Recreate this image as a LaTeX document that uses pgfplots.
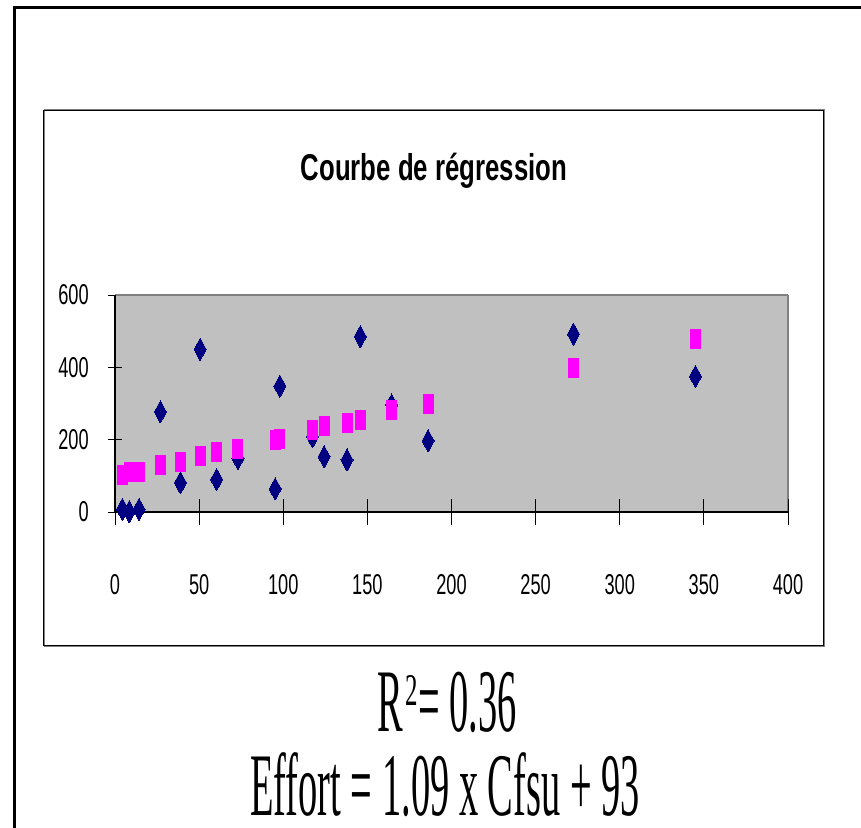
\documentclass[border=0pt]{standalone}
\usepackage{fontspec}
\setmainfont{Liberation Sans}
\newfontfamily\tickfont[FakeStretch=0.635]{Liberation Sans}
\newfontfamily\titlefont[FakeStretch=0.69]{Liberation Sans}
\newfontfamily\eqfont[FakeStretch=0.43]{Liberation Serif}
\newfontfamily\supfont[FakeStretch=0.55]{Liberation Serif}
\usepackage{pgfplots}
\usepackage{pgfplotstable}
\pgfplotsset{compat=1.18}
\definecolor{navyd}{HTML}{000080}
\definecolor{pinkm}{HTML}{FF00FF}
\definecolor{plotgray}{HTML}{C0C0C0}
\definecolor{edgegray}{HTML}{808080}
\pgfplotstableread{
x e p
4.4 7.5 102
8.5 1 111
14.3 7.5 111
27.0 277 129
38.9 81 138
50.6 450 156
60.4 90 165
73.1 148 174
95.2 64 199
98.0 348 202
117.4 208 228
124.3 153 237
137.9 144 246
145.8 485 254
164.4 296 281
186.1 197 299
272.5 492 397
345.0 375 478
}\data
\begin{document}
\begin{tikzpicture}
\useasboundingbox (0,0) rectangle (645.75pt,-621pt);
% outer frame
\draw[line width=2.25pt] (9.75pt,-5.25pt) -- (645.75pt,-5.25pt);
\draw[line width=2.25pt] (10.875pt,-4.125pt) -- (10.875pt,-621pt);
% chart area box
\draw[edgegray, line width=0.75pt] (33pt,-81.75pt) rectangle (618pt,-484.5pt);
\draw[black, line width=0.75pt] (32.25pt,-82.5pt) rectangle (617.25pt,-483.75pt);
% title
\node[anchor=base, inner sep=0pt, font=\titlefont\fontsize{28}{30}\selectfont\bfseries] at (325.5pt,-135pt) {Courbe de régression};
\begin{axis}[
  at={(86.25pt,-384pt)}, anchor=south west,
  scale only axis, width=504.75pt, height=162.75pt,
  xmin=0, xmax=400, ymin=0, ymax=600,
  xtick={0,50,...,400}, ytick={0,200,400,600},
  axis background/.style={fill=plotgray},
  axis line style={draw=none},
  tick align=center, major tick length=10.5pt,
  xtick style={draw=none},
  ytick style={black, line width=0.75pt},
  ytick pos=left, xtick pos=bottom,
  /pgf/number format/assume math mode=true,
  ticklabel style={font=\tickfont\fontsize{21.5}{22}\selectfont, inner sep=0pt},
  xticklabel style={anchor=base, yshift=-56.25pt},
  yticklabel style={anchor=east, xshift=-14.25pt},
  clip=false,
]
\draw[edgegray, line width=1.8pt] (axis cs:0,600) -- (axis cs:400,600);
\draw[edgegray, line width=1.1pt] (axis cs:400,600) -- (axis cs:400,0);
\draw[black, line width=1pt] (axis cs:0,0) -- (axis cs:0,600);
\draw[black, line width=1pt] (axis cs:0,0) -- (axis cs:400,0);
\pgfplotsinvokeforeach{0,50,100,150,200,250,300,350,400}{
  \draw[black, line width=0.75pt] (axis cs:#1,0) ++(0,9.75pt) -- ++(0,-19.5pt);
}
\addplot[only marks, mark=diamond*, mark size=8.25pt, mark options={xscale=0.73, fill=navyd, draw=navyd, line width=0pt}] table[x=x, y=e] {\data};
\addplot[only marks, mark=square*, mark size=3.75pt, mark options={yscale=1.9, fill=pinkm, draw=pinkm, line width=0pt}] table[x=x, y=p] {\data};
\end{axis}
\node[anchor=base, inner sep=0pt, font=\eqfont\fontsize{67}{68}\selectfont] at (335.25pt,-548.25pt) {R\hspace{2pt}\raisebox{19pt}{\supfont\fontsize{34}{34}\selectfont 2}= 0.36};
\node[anchor=base, inner sep=0pt, font=\eqfont\fontsize{67}{68}\selectfont] at (333.75pt,-611.25pt) {Effort = 1.09 x Cfsu + 93};
\end{tikzpicture}
\end{document}
